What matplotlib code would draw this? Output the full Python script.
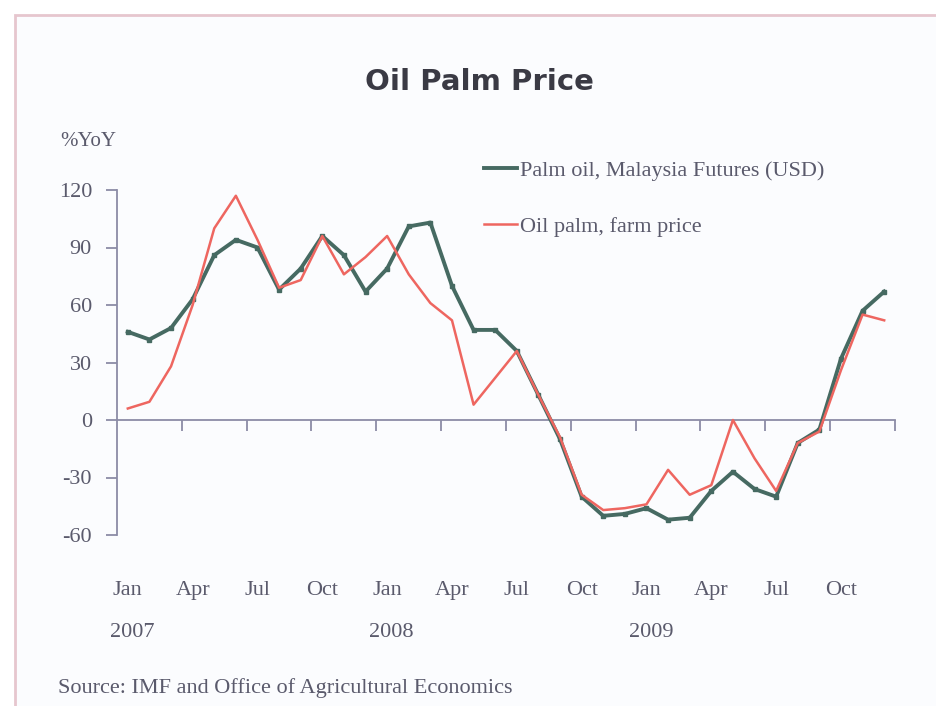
import numpy as np
import matplotlib
matplotlib.use('Agg')
import matplotlib.pyplot as plt
import matplotlib.transforms as mtransforms
from matplotlib.patches import Rectangle

# Monthly %YoY, Jan 2007 .. Dec 2009
futures = [46, 42, 48, 63, 86, 94, 90, 68, 79, 96, 86, 67,
           79, 101, 103, 70, 47, 47, 36, 13, -10, -40, -50, -49,
           -46, -52, -51, -37, -27, -36, -40, -12, -5, 32, 57, 67]
farm = [6, 9.5, 28, 60, 100, 117, 94, 69, 73, 96, 76, 85,
        96, 76, 61, 52, 8, 22, 36, 13, -9, -39, -47, -46,
        -44, -26, -39, -34, 0, -20, -37, -12, -6, 26, 55, 52]

month_labels = ['Jan', 'Apr', 'Jul', 'Oct'] * 3
year_labels = ['2007', '2008', '2009']
yticks = [-60, -30, 0, 30, 60, 90, 120]

serif = 'Liberation Serif'
txt_col = '#5a5a6c'
ax_col = '#8c8ca6'
green = '#466a62'
red = '#ee6660'

fig = plt.figure(figsize=(9.37, 7.06), dpi=100)
fig.patch.set_facecolor('white')

# pink frame round the chart
frame = Rectangle((15 / 937, -0.1), 1.0, 1 - 15 / 706 + 0.1,
                  transform=fig.transFigure, facecolor='#fbfcfe',
                  edgecolor='#e6c6ce', linewidth=2, zorder=-10)
fig.patches.append(frame)

ax = fig.add_axes([117 / 937, 1 - 535 / 706, 778 / 937, 345 / 706])
ax.patch.set_alpha(0)

x = np.arange(len(futures))
ax.plot(x, futures, color=green, lw=2.8, marker='s', markersize=2.5,
        label='Palm oil, Malaysia Futures (USD)', zorder=3)
ax.plot(x, farm, color=red, lw=1.8, label='Oil palm, farm price', zorder=4)

ax.set_xlim(-0.5, len(futures) - 0.5)
ax.set_ylim(-60, 120)

for s in ['top', 'right']:
    ax.spines[s].set_visible(False)
ax.spines['bottom'].set_position(('data', 0))
ax.spines['left'].set_color(ax_col)
ax.spines['bottom'].set_color(ax_col)
ax.spines['left'].set_linewidth(1.3)
ax.spines['bottom'].set_linewidth(1.3)

ax.set_yticks(yticks)
ax.set_yticklabels([str(v) for v in yticks], fontfamily=serif, fontsize=16,
                   color=txt_col)
ax.tick_params(axis='y', direction='out', length=8, width=1.3, color=ax_col, pad=10)

ax.set_xticks(np.arange(2.5, len(futures), 3))
ax.set_xticklabels([])
ax.tick_params(axis='x', direction='out', length=8, width=1.3, color=ax_col)

trans = mtransforms.blended_transform_factory(ax.transData, ax.transAxes)
for i, lab in enumerate(month_labels):
    ax.text(i * 3, -0.16, lab, transform=trans, ha='center', va='center',
            fontfamily=serif, fontsize=16, color=txt_col)
for i, lab in enumerate(year_labels):
    ax.text(i * 12 + 0.2, -0.283, lab, transform=trans, ha='center', va='center',
            fontfamily=serif, fontsize=16, color=txt_col)

handles, labels = ax.get_legend_handles_labels()
leg = fig.legend(handles, labels, loc='upper left',
                 bbox_to_anchor=(484 / 937, 1 - 160 / 706),
                 frameon=False, handlelength=1.5, handletextpad=0.1,
                 labelspacing=1.6, borderpad=0, borderaxespad=0,
                 prop={'family': serif, 'size': 16})
for t in leg.get_texts():
    t.set_color(txt_col)
for h in leg.legend_handles:
    h.set_marker('')

fig.text(479 / 937, 1 - 82 / 706, 'Oil Palm Price', ha='center', va='center',
         fontfamily='DejaVu Sans', fontweight='bold', fontsize=21, color='#3a3a44')
fig.text(60 / 937, 1 - 141 / 706, '%YoY', ha='left', va='center',
         fontfamily=serif, fontsize=15, color=txt_col)
fig.text(58 / 937, 1 - 688 / 706, 'Source: IMF and Office of Agricultural Economics',
         ha='left', va='center', fontfamily=serif, fontsize=16, color=txt_col)

fig.savefig('out.png', dpi=100)
